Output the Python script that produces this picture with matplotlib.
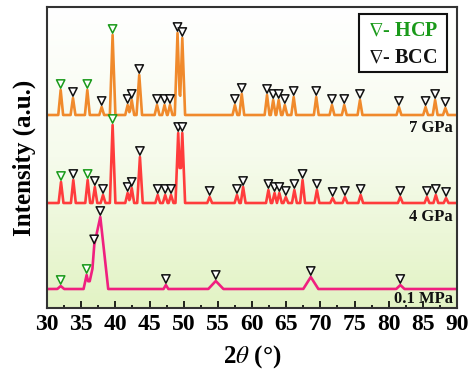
import numpy as np
import matplotlib
matplotlib.use("Agg")
import matplotlib.pyplot as plt
from matplotlib.colors import LinearSegmentedColormap
from matplotlib.patches import Rectangle

plt.rcParams["mathtext.fontset"] = "stix"

# ---------------- data ----------------
xticks = [30, 35, 40, 45, 50, 55, 60, 65, 70, 75, 80, 85, 90]
labels = ["7 GPa", "4 GPa", "0.1 MPa"]
baselines = [193, 105, 19]

# 7 GPa: peak position (2theta), height (a.u.), half width, phase
p7_pos = [32.0, 33.8, 35.9, 38.0, 39.6, 41.8, 42.4, 43.5, 46.1, 47.2, 48.0, 49.1, 49.8,
          57.5, 58.5, 62.2, 63.1, 63.9, 64.8, 66.1, 69.4, 71.7, 73.5, 75.8, 81.5, 85.4, 86.8, 88.3]
p7_h = [25, 17, 25, 8, 80, 10, 15, 40, 10, 10, 10, 82, 77,
        10, 21, 20, 15, 15, 10, 18, 18, 10, 10, 15, 8, 8, 15, 7]
p7_w = [0.35, 0.35, 0.35, 0.35, 0.4, 0.35, 0.35, 0.4, 0.35, 0.35, 0.35, 0.4, 0.4,
        0.35, 0.35, 0.35, 0.35, 0.35, 0.35, 0.35, 0.35, 0.35, 0.35, 0.35, 0.35, 0.35, 0.35, 0.35]
p7_ph = ["H", "B", "H", "B", "H", "B", "B", "B", "B", "B", "B", "B", "B",
         "B", "B", "B", "B", "B", "B", "B", "B", "B", "B", "B", "B", "B", "B", "B"]

# 4 GPa
p4_pos = [32.05, 33.85, 35.95, 37.0, 38.2, 39.6, 41.8, 42.4, 43.6, 46.2, 47.3, 48.15, 49.2, 49.8,
          53.8, 57.8, 58.7, 62.4, 63.3, 64.0, 64.95, 66.2, 67.4, 69.5, 71.8, 73.6, 75.9,
          81.7, 85.6, 86.9, 88.4]
p4_h = [21, 23, 23, 16, 8, 78, 10, 15, 46, 8, 8, 8, 70, 70,
        6, 8, 16, 13, 10, 10, 6, 13, 23, 13, 5, 6, 8,
        6, 6, 8, 5]
p4_w = [0.35] * 5 + [0.4] + [0.35] * 2 + [0.4] + [0.35] * 3 + [0.4, 0.4] + [0.35] * 17
p4_ph = ["H", "B", "H", "B", "B", "H"] + ["B"] * 25

# 0.1 MPa
p0_pos = [32.0, 35.8, 36.9, 37.8, 47.4, 54.7, 68.6, 81.7]
p0_h = [3, 14, 28, 72, 4, 8, 12, 4]
p0_w = [0.5, 0.45, 0.9, 1.15, 0.35, 1.1, 1.1, 0.6]
p0_ph = ["H", "H", "B", "B", "B", "B", "B", "B"]

series = [(p7_pos, p7_h, p7_w, p7_ph),
          (p4_pos, p4_h, p4_w, p4_ph),
          (p0_pos, p0_h, p0_w, p0_ph)]
colors = ["#f08a2c", "#ff3c3c", "#f0207f"]

# ---------------- figure ----------------
fig = plt.figure(figsize=(4.70, 3.81), dpi=100)
ax = fig.add_axes([47 / 470, 1 - 308 / 381, 410 / 470, 301 / 381])

cmap = LinearSegmentedColormap.from_list("bg", ["#e2f3c4", "#f6fbec", "#ffffff"])
grad = np.linspace(0, 1, 256).reshape(-1, 1)
ax.imshow(grad, aspect="auto", cmap=cmap, origin="lower",
          extent=[30, 90, 0, 301], zorder=0)

grid = np.linspace(30, 90, 6001)
for (pos, h, w, ph), base, col in zip(series, baselines, colors):
    y = np.full_like(grid, float(base))
    for c, hh, ww in zip(pos, h, w):
        y += np.clip(hh * (1 - np.abs(grid - c) / ww), 0, None)
    ax.plot(grid, y, color=col, lw=1.9, zorder=2, solid_joinstyle="round")
    tops = np.interp(pos, grid, y)
    mcol = ["#1a9a1a" if p == "H" else "#111111" for p in ph]
    ax.scatter(pos, tops + 6, marker="v", s=36, facecolors="white",
               edgecolors=mcol, linewidths=1.1, zorder=3)

serif = ["Liberation Serif", "DejaVu Serif"]
label_pos = [(89.4, 180), (89.4, 91), (89.4, 9)]
for lab, (lx, ly) in zip(labels, label_pos):
    ax.text(lx, ly, lab, ha="right", va="center", fontsize=12, fontweight="bold",
            family=serif, color="#111111", zorder=4)

# legend box
ax.add_patch(Rectangle(((359 - 47) / 410, (308 - 72) / 301), 88 / 410, 58 / 301,
                       transform=ax.transAxes, facecolor="white", edgecolor="#111111",
                       lw=1.5, zorder=4))
ax.text((368 - 47) / 410, (308 - 31) / 301, r"$\nabla$- HCP", transform=ax.transAxes,
        ha="left", va="center", fontsize=14.5, fontweight="bold", family=serif,
        color="#1a9a1a", zorder=5)
ax.text((368 - 47) / 410, (308 - 58) / 301, r"$\nabla$- BCC", transform=ax.transAxes,
        ha="left", va="center", fontsize=14.5, fontweight="bold", family=serif,
        color="#111111", zorder=5)

ax.set_xlim(30, 90)
ax.set_ylim(0, 301)
ax.set_xticks(xticks)
ax.set_xticks(np.arange(32.5, 90, 5), minor=True)
ax.set_xticklabels([str(t) for t in xticks], fontsize=17, fontweight="bold", family=serif)
ax.set_yticks([])
ax.tick_params(axis="x", which="major", direction="in", length=5, width=1.2, pad=4)
ax.tick_params(axis="x", which="minor", direction="in", length=2.5, width=1.2)
for s in ax.spines.values():
    s.set_linewidth(1.5)
    s.set_color("#333333")

ax.set_xlabel(r"2$\theta$ (°)", fontsize=18, fontweight="bold", family=serif, labelpad=6)
ax.set_ylabel("Intensity (a.u.)", fontsize=18, fontweight="bold", family=serif, labelpad=8)

fig.savefig("out.png", dpi=100)
